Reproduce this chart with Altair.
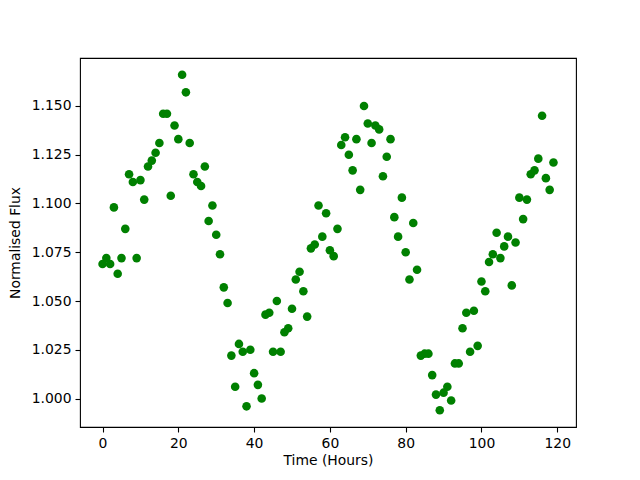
import altair as alt
import pandas as pd

hours = list(range(120))
flux = [
    1.069, 1.072, 1.069, 1.098, 1.064, 1.072, 1.087, 1.115, 1.111, 1.072,
    1.112, 1.102, 1.119, 1.122, 1.126, 1.131, 1.146, 1.146, 1.104, 1.140,
    1.133, 1.166, 1.157, 1.131, 1.115, 1.111, 1.109, 1.119, 1.091, 1.099,
    1.084, 1.074, 1.057, 1.049, 1.022, 1.006, 1.028, 1.024, 0.996, 1.025,
    1.013, 1.007, 1.000, 1.043, 1.044, 1.024, 1.050, 1.024, 1.034, 1.036,
    1.046, 1.061, 1.065, 1.055, 1.042, 1.077, 1.079, 1.099, 1.083, 1.095,
    1.076, 1.073, 1.087, 1.130, 1.134, 1.125, 1.117, 1.133, 1.107, 1.150,
    1.141, 1.131, 1.140, 1.138, 1.114, 1.124, 1.133, 1.093, 1.083, 1.103,
    1.075, 1.061, 1.090, 1.066, 1.022, 1.023, 1.023, 1.012, 1.002, 0.994,
    1.003, 1.006, 0.999, 1.018, 1.018, 1.036, 1.044, 1.024, 1.045, 1.027,
    1.060, 1.055, 1.070, 1.074, 1.085, 1.072, 1.078, 1.083, 1.058, 1.080,
    1.103, 1.092, 1.102, 1.115, 1.117, 1.123, 1.145, 1.113, 1.107, 1.121,
]
x_ticks = [0, 20, 40, 60, 80, 100, 120]
y_ticks = [1.000, 1.025, 1.050, 1.075, 1.100, 1.125, 1.150]

df = pd.DataFrame({"hours": hours, "flux": flux})

font = "DejaVu Sans"

chart = alt.Chart(df).mark_point(
    filled=True, shape="circle", size=74, color="#008000", opacity=1
).encode(
    x=alt.X("hours:Q", scale=alt.Scale(domain=[-5.95, 124.95], nice=False, zero=False),
            axis=alt.Axis(title="Time (Hours)", values=x_ticks, format="d")),
    y=alt.Y("flux:Q", scale=alt.Scale(domain=[0.9854, 1.1746], nice=False, zero=False),
            axis=alt.Axis(title="Normalised Flux", values=y_ticks, format=".3f")),
).properties(
    width=496, height=369,
    autosize=alt.AutoSizeParams(type="none"),
    padding={"left": 72, "top": 50, "right": 56, "bottom": 45},
).configure_view(
    stroke="black", strokeWidth=1.1
).configure_axis(
    grid=False, domain=False,
    tickColor="black", tickSize=5, tickWidth=1.1,
    labelColor="black", labelFont=font, labelFontSize=13.9, labelPadding=4,
    titleColor="black", titleFont=font, titleFontSize=13.9, titleFontWeight="normal",
).configure_axisX(
    titlePadding=4
).configure_axisY(
    titlePadding=9
)

chart.save("out.html", embed_options={"renderer": "svg", "actions": False})
